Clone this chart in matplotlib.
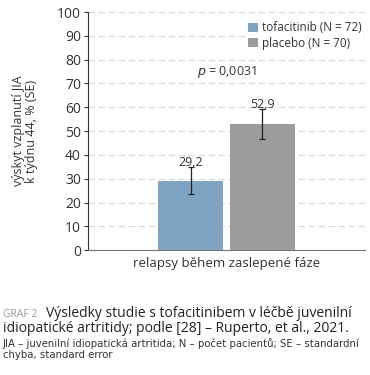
import matplotlib.pyplot as plt
import numpy as np

# data
groups = ['tofacitinib (N = 72)', 'placebo (N = 70)']
values = [29.2, 52.9]
se = [5.6, 6.4]
value_labels = ['29,2', '52,9']
colors = ['#7fa3c2', '#9c9c9c']
category = 'relapsy během zaslepené fáze'
yticks = [0, 10, 20, 30, 40, 50, 60, 70, 80, 90, 100]

plt.rcParams['font.family'] = ['Open Sans', 'DejaVu Sans']

fig = plt.figure(figsize=(3.7, 3.75), dpi=100)
ax = fig.add_axes([0.238, 0.333, 0.748, 0.635])

offsets = [-0.55, 0.55]
for i in range(2):
    ax.bar(offsets[i], values[i], width=1.0, color=colors[i], label=groups[i], zorder=2)
    ax.errorbar(offsets[i], values[i], yerr=se[i], color='#222222', capsize=2.3,
                elinewidth=0.9, capthick=0.9, zorder=3)
    ax.text(offsets[i], values[i] + se[i] - 0.8, value_labels[i], ha='center', va='bottom',
            fontsize=9, color='#333333', zorder=4)

ax.text(0.0, 75, '$p$ = 0,0031', ha='center', va='center', fontsize=9, color='#333333')

ax.set_xlim(-2.13, 2.13)
ax.set_ylim(0, 100)
ax.set_yticks(yticks)
ax.set_xticks([])
ax.tick_params(axis='y', labelsize=10, length=3, colors='#333333', pad=2)
ax.yaxis.grid(True, linestyle=(0, (6, 3)), color='#d8d8d8', linewidth=0.8, zorder=0)
ax.set_axisbelow(True)
for s in ['top', 'right']:
    ax.spines[s].set_visible(False)
ax.spines['left'].set_color('#333333')
ax.spines['bottom'].set_color('#777777')
ax.spines['left'].set_linewidth(0.8)

ax.set_ylabel('výskyt vzplanutí JIA\nk týdnu 44, % (SE)', fontsize=9, color='#333333',
              linespacing=1.0, labelpad=14)
ax.set_xlabel(category, fontsize=9.5, color='#333333', labelpad=5)

leg = ax.legend(loc='upper right', bbox_to_anchor=(1.02, 0.995), frameon=True, fontsize=8.5,
                handlelength=0.8, handleheight=0.8, handletextpad=0.4, labelspacing=0.2,
                borderpad=0.2, edgecolor='none', facecolor='white', framealpha=1)
for t in leg.get_texts():
    t.set_color('#333333')

fig.text(0.008, 0.155, 'GRAF 2', fontsize=7.5, color='#999999', va='baseline')
fig.text(0.125, 0.155, 'Výsledky studie s tofacitinibem v léčbě juvenilní',
         fontsize=10, color='#222222', va='baseline')
fig.text(0.008, 0.115, 'idiopatické artritidy; podle [28] – Ruperto, et al., 2021.',
         fontsize=10, color='#222222', va='baseline')
fig.text(0.008, 0.075, 'JIA – juvenilní idiopatická artritida; N – počet pacientů; SE – standardní',
         fontsize=7.3, color='#333333', va='baseline', family=['Liberation Sans Narrow', 'DejaVu Sans'])
fig.text(0.008, 0.045, 'chyba, standard error',
         fontsize=7.3, color='#333333', va='baseline', family=['Liberation Sans Narrow', 'DejaVu Sans'])

fig.savefig('out.png', dpi=100)
